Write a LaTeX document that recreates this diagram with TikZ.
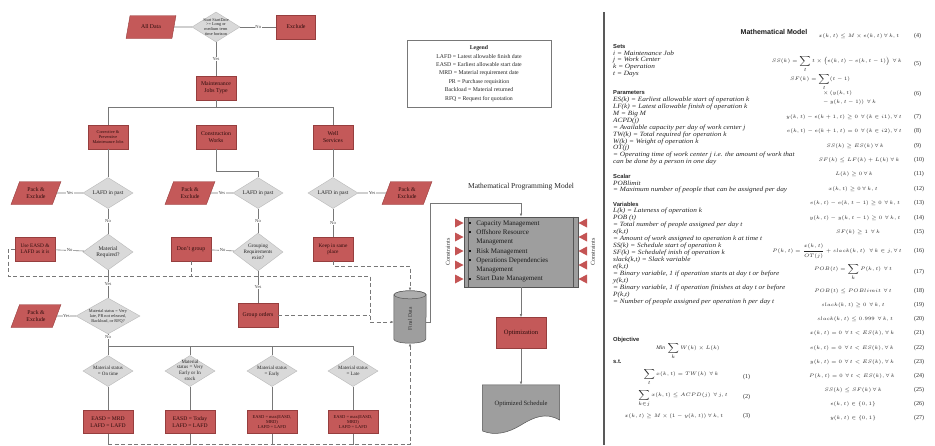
\documentclass[tikz,border=0pt]{standalone}
\usepackage{amsmath}
\usepackage{exscale}
\usepackage{fontspec}
\setmainfont{Liberation Serif}
\newfontfamily\hfont{Liberation Sans}
\newfontfamily\camb[FakeStretch=1.12]{Liberation Serif}
\usetikzlibrary{shapes.geometric,arrows.meta,calc}
\definecolor{boxred}{RGB}{196,89,89}
\definecolor{boxedge}{RGB}{150,62,62}
\definecolor{boxtext}{RGB}{45,12,12}
\definecolor{diafill}{RGB}{217,217,217}
\definecolor{diaedge}{RGB}{185,185,185}
\definecolor{linegray}{RGB}{120,120,120}
\definecolor{mpmgray}{RGB}{158,158,158}
\definecolor{darkedge}{RGB}{85,85,85}
\definecolor{trired}{RGB}{196,84,84}
\tikzset{
 rbox/.style={rectangle, fill=boxred, draw=boxedge, line width=0.4pt, minimum width=40pt, minimum height=24pt, inner sep=1pt, align=center, text=boxtext, font=\fontsize{5.8}{6.6}\selectfont},
 para/.style={trapezium, trapezium left angle=65, trapezium right angle=115, trapezium stretches=true, fill=boxred, draw=boxedge, line width=0.4pt, minimum width=50pt, minimum height=23pt, inner sep=0pt, align=center, text=boxtext, font=\fontsize{5.8}{6.6}\selectfont},
 dia/.style={diamond, fill=diafill, draw=diaedge, line width=0.4pt, inner sep=0pt, minimum width=50pt, minimum height=31pt},
 dtxt/.style={align=center, inner sep=0pt, text=black!85, font=\fontsize{5.6}{6.4}\selectfont},
 conn/.style={draw=linegray, line width=0.6pt},
 dconn/.style={draw=linegray, line width=0.6pt, dash pattern=on 4pt off 2.5pt},
 arr/.style={-{Latex[length=3.2pt,width=2.6pt]}},
 lbl/.style={fill=white, inner sep=0.5pt, text=black!75, font=\fontsize{4.6}{5}\selectfont},
 ptxt/.style={anchor=west, inner sep=0pt, text=black!85, font=\camb\itshape\fontsize{6.5}{7}\selectfont},
 hd/.style={anchor=west, inner sep=0pt, text=black!85, font=\hfont\bfseries\fontsize{5.8}{7}\selectfont},
 eqs/.style={inner sep=0pt, text=black!85, font=\fontsize{5.4}{6.2}\selectfont},
 eqnum/.style={anchor=west, inner sep=0pt, text=black!85, font=\fontsize{6}{7}\selectfont},
}
\newcommand\mytxt[3]{\node[ptxt] (#1) at (613,#2) {#3};}
\newcommand\myhd[3]{\node[hd] (#1) at (613,#2) {#3};}
\newcommand\myeq[5]{\node[eqs,anchor=#3] (eq#1) at (#4,#2) {$#5$};\node[eqnum] (en#1) at (914,#2) {(#1)};}
\begin{document}
\begin{tikzpicture}[x=1pt,y=-1pt]
\useasboundingbox (0,0) rectangle (935,445);
\fill[white] (0,0) rectangle (935,445);

% ---------------- top row
\node[para] (alldata) at (151,27) {All Data};
\node[dia, minimum width=48pt, minimum height=30pt] (d0) at (216,27) {};
\node[dtxt, font=\fontsize{4.3}{4.9}\selectfont] (d0t) at (216,27) {Start StartDate\\>= Long or\\medium term\\time horizon};
\node[rbox, minimum width=39pt] (excl) at (296,27) {Exclude};
\node[rbox] (mjt) at (216,88) {Maintenance\\Jobs Type};
\draw[conn] (alldata) -- (d0);
\draw[conn] (d0) -- node[lbl] (n0) {No} (excl);
\draw[conn] (d0) -- node[lbl] (y0) {Yes} (mjt);

% ---------------- job types
\node[rbox, font=\fontsize{4.3}{5}\selectfont] (cpm) at (108,137) {Corrective \&\\Preventive\\Maintenance Jobs};
\node[rbox] (cw) at (216,137) {Construction\\Works};
\node[rbox] (ws) at (333,137) {Well\\Services};
\coordinate (busL) at (108,107);
\coordinate (busM) at (216,107);
\coordinate (busR) at (333,107);
\draw[conn] (mjt) -- (busM);
\draw[conn] (cpm) -- (busL) -- (busR) -- (ws);

% ---------------- LAFD in past
\node[dia] (l1) at (108,193) {};
\node[dtxt] (l1t) at (108,193) {LAFD in past};
\node[dia] (l2) at (258,193) {};
\node[dtxt] (l2t) at (258,193) {LAFD in past};
\node[dia] (l3) at (333,193) {};
\node[dtxt] (l3t) at (333,193) {LAFD in past};
\node[para] (p1) at (36,193) {Pack \&\\Exclude};
\node[para] (p2) at (190,193) {Pack \&\\Exclude};
\node[para] (p3) at (407,193) {Pack \&\\Exclude};
\draw[conn] (cpm) -- (l1);
\draw[conn] (cw.south) -- ++(0,22) -| (l2.north);
\draw[conn] (ws) -- (l3);
\draw[conn] (l1) -- node[lbl] (y1) {Yes} (p1);
\draw[conn] (l2) -- node[lbl] (y2) {Yes} (p2);
\draw[conn] (l3) -- node[lbl] (y3) {Yes} (p3);

% ---------------- third level
\node[dia, minimum height=36pt] (mr) at (108,252) {};
\node[dtxt] (mrt) at (108,252) {Material\\Required?};
\node[rbox, font=\fontsize{5.3}{6.2}\selectfont] (ue) at (35,249) {Use EASD \&\\LAFD as it is};
\node[dia, minimum height=38pt] (gr) at (258,252) {};
\node[dtxt, font=\fontsize{5.2}{6}\selectfont] (grt) at (258,252) {Grouping\\Requirements\\exist?};
\node[rbox] (dg) at (191,249) {Don't group};
\node[rbox, font=\fontsize{5.3}{6.2}\selectfont] (ks) at (333,249) {Keep in same\\place};
\draw[conn] (l1) -- node[lbl] (n1) {No} (mr);
\draw[conn] (mr) -- node[lbl] (n2) {No} (ue);
\draw[conn] (l2) -- node[lbl] (n3) {No} (gr);
\draw[conn] (gr) -- node[lbl] (n4) {No} (dg);
\draw[conn] (l3) -- node[lbl] (n5) {No} (ks);

% ---------------- fourth level
\node[dia, minimum width=64pt, minimum height=36pt] (ms) at (108,316) {};
\node[dtxt, font=\fontsize{4.3}{5}\selectfont] (mst) at (108,316) {Material status = Very\\late, PR not released,\\Backload, or RFQ?};
\node[para] (p4) at (36,316) {Pack \&\\Exclude};
\node[rbox] (go) at (258,315) {Group orders};
\draw[conn] (mr) -- node[lbl] (y4) {Yes} (ms);
\draw[conn] (ms) -- node[lbl] (y5) {Yes} (p4);
\draw[conn] (gr) -- node[lbl] (y6) {Yes} (go);

% ---------------- material status
\node[dia] (s1) at (108,371) {};
\node[dtxt, font=\fontsize{5}{5.8}\selectfont] (s1t) at (108,371) {Material status\\= On time};
\node[dia] (s2) at (190,371) {};
\node[dtxt, font=\fontsize{5}{5.6}\selectfont] (s2t) at (190,370) {Material\\status = Very\\Early or In\\stock};
\node[dia] (s3) at (272,371) {};
\node[dtxt, font=\fontsize{5}{5.8}\selectfont] (s3t) at (272,371) {Material status\\= Early};
\node[dia] (s4) at (353,371) {};
\node[dtxt, font=\fontsize{5}{5.8}\selectfont] (s4t) at (353,371) {Material status\\= Late};
\coordinate (b2L) at (108,346);
\coordinate (b2R) at (353,346);
\draw[conn] (ms) -- node[lbl, pos=0.12] (n6) {No} (s1);
\draw[conn] (b2L) -- (b2R) -- (s4);
\draw[conn] (s2.north) -- (s2.north |- b2L);
\draw[conn] (s3.north) -- (s3.north |- b2L);

\node[rbox, minimum width=50pt, minimum height=23pt, font=\fontsize{5.6}{6.6}\selectfont] (b1) at (108,422) {EASD = MRD\\LAFD = LAFD};
\node[rbox, minimum width=50pt, minimum height=23pt, font=\fontsize{5.6}{6.6}\selectfont] (b2) at (190,422) {EASD = Today\\LAFD = LAFD};
\node[rbox, minimum width=50pt, minimum height=23pt, font=\fontsize{4.5}{5.3}\selectfont] (b3) at (272,422) {EASD = max(EASD,\\MRD)\\LAFD = LAFD};
\node[rbox, minimum width=50pt, minimum height=23pt, font=\fontsize{4.5}{5.3}\selectfont] (b4) at (353,422) {EASD = max(EASD,\\MRD)\\LAFD = LAFD};
\draw[conn] (s1) -- (b1);
\draw[conn] (s2) -- (b2);
\draw[conn] (s3) -- (b3);
\draw[conn] (s4) -- (b4);
\coordinate (e1) at (108,445);
\coordinate (e2) at (190,445);
\coordinate (e3) at (272,445);
\coordinate (e4) at (353,445);
\draw[conn] (b1) -- (e1);
\draw[conn] (b2) -- (e2);
\draw[conn] (b3) -- (e3);
\draw[conn] (b4) -- (e4);

% ---------------- final data cylinder
\node[minimum width=32pt, minimum height=52pt, inner sep=0pt] (fd) at (410,317) {};
\filldraw[fill=mpmgray, draw=darkedge, line width=0.5pt] ($(fd.north west)+(0,4)$) -- ($(fd.south west)+(0,-4)$) arc[start angle=180, end angle=360, x radius=16pt, y radius=4pt] -- ($(fd.north east)+(0,4)$) arc[start angle=0, end angle=180, x radius=16pt, y radius=4pt] -- cycle;
\filldraw[fill=mpmgray!85, draw=darkedge, line width=0.5pt] ($(fd.north)+(0,4)$) ellipse[x radius=16pt, y radius=4pt];
\node[rotate=90, inner sep=0pt, text=black!80, font=\fontsize{5.5}{6}\selectfont] (fdt) at (410,319) {Final Data};

% dashed connectors
\coordinate (dA) at (8,276);
\coordinate (dB) at (370,276);
\draw[dconn, arr] (ue.west) -| (dA) -- (dB) |- ($(fd.west)+(0,5)$);
\draw[dconn] (dg.south) -- (dg.south |- dA);
\draw[dconn] (go.east) -- (go.east -| dB);
\draw[dconn, arr] (ks.south) -- ++(0,5) -| (fd.north);
\coordinate (dC) at (108,444);
\coordinate (dD) at (410,444);
\draw[dconn, arr] (dC) -- (dD) -- (fd.south);

% ---------------- legend
\node[draw=linegray, line width=0.7pt, minimum width=144pt, minimum height=67pt, align=center, text=black!85, font=\fontsize{5.8}{8.4}\selectfont] (legend) at (479,73.5) {\textbf{Legend}\\LAFD = Latest allowable finish date\\EASD = Earliest allowable start date\\MRD = Material requirement date\\PR = Purchase requisition\\Backload = Material returned\\RFQ = Request for quotation};

% ---------------- mathematical programming model
\node[text=black!85, font=\fontsize{7.5}{9}\selectfont] (mpmtitle) at (521,187) {Mathematical Programming Model};
\node[draw=darkedge, fill=mpmgray, line width=0.6pt, minimum width=114pt, minimum height=70pt] (mpm) at (521,252) {};
\draw[darkedge, line width=0.5pt] ($(mpm.north west)+(5,0)$) -- ($(mpm.south west)+(5,0)$);
\draw[darkedge, line width=0.5pt] ($(mpm.north east)+(-5,0)$) -- ($(mpm.south east)+(-5,0)$);
\node[anchor=west, align=left, inner sep=0pt, text=black!90, font=\fontsize{7}{9.3}\selectfont] (mpmt) at (469,251.5) {\raisebox{1pt}{\rule{2.2pt}{2.2pt}}\hspace{5pt}Capacity Management\\\raisebox{1pt}{\rule{2.2pt}{2.2pt}}\hspace{5pt}Offshore Resource\\\hspace{7.2pt}Management\\\raisebox{1pt}{\rule{2.2pt}{2.2pt}}\hspace{5pt}Risk Management\\\raisebox{1pt}{\rule{2.2pt}{2.2pt}}\hspace{5pt}Operations Dependencies\\\hspace{7.2pt}Management\\\raisebox{1pt}{\rule{2.2pt}{2.2pt}}\hspace{5pt}Start Date Management};
\foreach \ty in {223,237,251,265,279} {
  \fill[trired] (455,\ty-4.5) -- (463.5,\ty) -- (455,\ty+4.5) -- cycle;
  \fill[trired] (587,\ty-4.5) -- (578.5,\ty) -- (587,\ty+4.5) -- cycle;
}
\node[rotate=90, inner sep=0pt, text=black!80, font=\fontsize{6}{7}\selectfont] (consl) at (448,252) {Constraints};
\node[rotate=90, inner sep=0pt, text=black!80, font=\fontsize{6}{7}\selectfont] (consr) at (593,252) {Constraints};
\coordinate (sA) at (430,203);
\draw[conn, arr] ($(fd.east)+(0,5)$) -| (sA) -| (mpm.north);

\node[rbox, minimum width=50pt, minimum height=31pt, font=\fontsize{6.5}{7.5}\selectfont] (opt) at (521,333) {Optimization};
\draw[conn, arr] (mpm) -- (opt);
\node[minimum width=77pt, minimum height=40pt, inner sep=0pt] (os) at (521,405) {};
\filldraw[fill=mpmgray, draw=darkedge, line width=0.5pt] (os.north west) -- (os.north east) -- (559.5,420) .. controls (546,412) and (534,417) .. (521,425) .. controls (508,433) and (495,436) .. (482.5,431) -- cycle;
\node[inner sep=0pt, text=black!85, font=\fontsize{6.5}{7.5}\selectfont] (ost) at (521,404) {Optimized Schedule};
\draw[conn, arr] (opt) -- (os);

% ---------------- separator
\coordinate (sepT) at (604,12);
\coordinate (sepB) at (604,445);
\draw[line width=1.6pt, black!65] (sepT) -- (sepB);

% ---------------- mathematical model
\node[inner sep=0pt, text=black!90, font=\hfont\bfseries\fontsize{7}{8}\selectfont] (mmt) at (774,32) {Mathematical Model};

\myhd{hsets}{46}{Sets}
\mytxt{t1}{53}{i = Maintenance Job}
\mytxt{t2}{60}{j = Work Center}
\mytxt{t3}{67}{k = Operation}
\mytxt{t4}{74}{t = Days}
\myhd{hpar}{93}{Parameters}
\mytxt{t5}{100}{ES(k) = Earliest allowable start of operation k}
\mytxt{t6}{106.9}{LF(k) = Latest allowable finish of operation k}
\mytxt{t7}{113.8}{M = Big M}
\mytxt{t8}{120.7}{ACPD(j)}
\mytxt{t9}{127.6}{= Available capacity per day of work center j}
\mytxt{t10}{134.5}{TW(k) = Total required for operation k}
\mytxt{t11}{141.4}{W(k) = Weight of operation k}
\mytxt{t12}{148.3}{OT(j)}
\mytxt{t13}{155.2}{= Operating time of work center j i.e. the amount of work that}
\mytxt{t14}{162.1}{can be done by a person in one day}
\myhd{hsca}{176}{Scalar}
\mytxt{t15}{183}{POBlimit}
\mytxt{t16}{190}{= Maximum number of people that can be assigned per day}
\myhd{hvar}{204}{Variables}
\mytxt{t17}{211}{L(k) = Lateness of operation k}
\mytxt{t18}{218}{POB (t)}
\mytxt{t19}{225}{= Total number of people assigned per day t}
\mytxt{t20}{232}{x(k,t)}
\mytxt{t21}{239}{= Amount of work assigned to operation k at time t}
\mytxt{t22}{246}{SS(k) = Schedule start of operation k}
\mytxt{t23}{253}{SF(k) = Schedulef inish of operation k}
\mytxt{t24}{260}{slack(k,t) = Slack variable}
\mytxt{t25}{267}{e(k,t)}
\mytxt{t26}{274}{= Binary variable, 1 if operation starts at day t or before}
\mytxt{t27}{281}{y(k,t)}
\mytxt{t28}{288}{= Binary variable, 1 if operation finishes at day t or before}
\mytxt{t29}{295}{P(k,t)}
\mytxt{t30}{302}{= Number of people assigned per operation h per day t}
\myhd{hobj}{340}{Objective}
\node[eqs] (objf) at (688,351) {$\mathit{Min}\ \displaystyle\sum_k W(k)\times L(k)$};
\myhd{hst}{362}{s.t.}
\node[eqs] (eq1) at (681,377) {$\displaystyle\sum_t x(k,t) = TW(k)\ \ \forall\, k$};
\node[eqnum] (en1) at (743,377) {(1)};
\node[eqs] (eq2) at (683,399) {$\displaystyle\sum_{k\in j} x(k,t) \le ACPD(j)\ \ \forall\, j,t$};
\node[eqnum] (en2) at (743,397) {(2)};
\node[eqs] (eq3) at (674,416) {$x(k,t) \ge M\times(1 - y(k,t))\ \forall\, k,t$};
\node[eqnum] (en3) at (743,416) {(3)};

\myeq{4}{36}{center}{859}{x(k,t) \le M \times e(k,t)\ \forall\, k,t}
\myeq{5}{64}{east}{902}{SS(k) = \displaystyle\sum_t t \times \bigl(e(k,t) - e(k,t-1)\bigr)\ \ \forall\, k}
\node[eqs, anchor=west] (eq6a) at (790,82) {$SF(k) = \displaystyle\sum_t (t-1)$};
\node[eqs, anchor=west] (eq6b) at (823,93) {$\times\,(y(k,t)$};
\node[eqs, anchor=west] (eq6c) at (823,102) {$-\,y(k,t-1))\ \ \forall\, k$};
\node[eqnum] (en6) at (914,94) {(6)};
\myeq{7}{117}{east}{902}{y(k,t) - e(k+1,t) \ge 0\ \ \forall\,(k\in i1), \forall\, t}
\myeq{8}{131}{east}{902}{e(k,t) - e(k+1,t) = 0\ \ \forall\,(k\in i2), \forall\, t}
\myeq{9}{146}{center}{855}{SS(k) \ge ES(k)\ \forall\, k}
\myeq{10}{160}{center}{859}{SF(k) \le LF(k) + L(k)\ \forall\, k}
\myeq{11}{174.5}{center}{854}{L(k) \ge 0\ \forall\, k}
\myeq{12}{189}{center}{853}{x(k,t) \ge 0\ \forall\, k,t}
\myeq{13}{203.5}{center}{855}{e(k,t) - e(k,t-1) \ge 0\ \ \forall\, k,t}
\myeq{14}{218}{center}{855}{y(k,t) - y(k,t-1) \ge 0\ \ \forall\, k,t}
\myeq{15}{232.5}{center}{858}{SF(k) \ge 1\ \ \forall\, k}
\myeq{16}{251}{east}{902}{P(k,t) = \displaystyle\frac{x(k,t)}{OT(j)} + slack(k,t)\ \ \ \forall\, k\in j, \forall\, t}
\myeq{17}{272}{center}{853}{POB(t) = \displaystyle\sum_k P(k,t)\ \ \forall\, t}
\myeq{18}{291}{center}{853}{POB(t) \le POBlimit\ \ \forall\, t}
\myeq{19}{305}{center}{853}{slack(k,t) \ge 0\ \ \forall\, k,t}
\myeq{20}{319}{center}{855}{slack(k,t) \le 0.999\ \ \forall\, k,t}
\myeq{21}{333}{center}{852}{x(k,t) = 0\ \ \forall\, t < ES(k), \forall\, k}
\myeq{22}{348}{center}{852}{e(k,t) = 0\ \ \forall\, t < ES(k), \forall\, k}
\myeq{23}{362}{center}{852}{y(k,t) = 0\ \ \forall\, t < ES(k), \forall\, k}
\myeq{24}{376}{center}{852}{P(k,t) = 0\ \ \forall\, t < ES(k), \forall\, k}
\myeq{25}{390}{center}{853}{SS(k) \le SF(k)\ \forall\, k}
\myeq{26}{404}{center}{853}{e(k,t) \in \{0,1\}}
\myeq{27}{418}{center}{853}{y(k,t) \in \{0,1\}}
\end{tikzpicture}
\end{document}
